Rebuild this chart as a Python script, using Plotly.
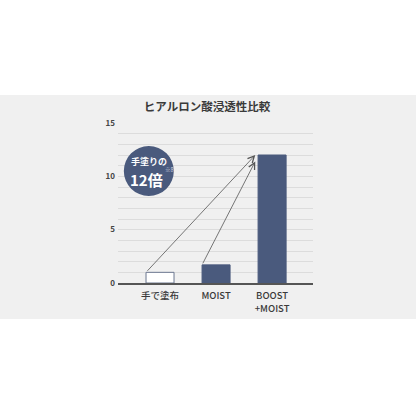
import plotly.graph_objects as go

# data
categories = ['手で塗布', 'MOIST', 'BOOST<br>+MOIST']
values = [1.0, 1.7, 12.0]
y_ticks = [0, 5, 10, 15]

bar_fill = ['#ffffff', '#4a5a7d', '#4a5a7d']
bar_edge = ['#6b7690', '#4a5a7d', '#4a5a7d']
navy = '#4a5a7d'
font_family = 'Noto Sans CJK JP'
bar_w = 0.5

fig = go.Figure()

fig.add_trace(go.Bar(
    x=categories, y=values, width=bar_w,
    marker=dict(color=bar_fill, line=dict(color=bar_edge, width=1)),
    showlegend=False, hoverinfo='skip'
))

# gray band behind the chart
fig.add_shape(type='rect', xref='paper', yref='paper',
              x0=-0.7, x1=1.6, y0=-0.225, y1=1.175,
              fillcolor='#f0f0f0', line_width=0, layer='below')

# arrows from the left bars to the top of the last bar
tip_x = 2 - bar_w / 2 - 0.05
tips_y = [values[2], values[2] - 0.6]
for i, ty in zip([0, 1], tips_y):
    fig.add_annotation(
        x=tip_x, y=ty, ax=i - bar_w / 2, ay=values[i],
        xref='x', yref='y', axref='x', ayref='y',
        text='', showarrow=True, arrowhead=5, arrowsize=1.6,
        arrowwidth=0.8, arrowcolor='#555555'
    )

# badge circle
cx, cy = -0.2, 10.5
fig.add_shape(type='circle', xref='x', yref='y',
              xsizemode='pixel', ysizemode='pixel',
              xanchor=cx, yanchor=cy, x0=-25, x1=25, y0=-25, y1=25,
              fillcolor=navy, line_width=0)
fig.add_annotation(x=cx, y=cy, xref='x', yref='y', yshift=10,
                   text='<b>手塗りの</b>', showarrow=False,
                   font=dict(family=font_family, size=9, color='white'))
fig.add_annotation(x=cx, y=cy, xref='x', yref='y', yshift=-8, xshift=-2,
                   text='12倍', showarrow=False,
                   font=dict(family=font_family, size=15, color='white', weight=600))
fig.add_annotation(x=cx, y=cy, xref='x', yref='y', xshift=21, yshift=1,
                   text='※8', showarrow=False,
                   font=dict(family=font_family, size=5.5, color='#d4d8e0'))

fig.update_layout(
    width=416, height=416,
    margin=dict(l=118, r=103, t=123, b=133),
    paper_bgcolor='white', plot_bgcolor='rgba(0,0,0,0)',
    font=dict(family=font_family, color='#444444'),
    title=dict(text='<b>ヒアルロン酸浸透性比較</b>', x=0.4976, y=1 - 107 / 416,
               xanchor='center', yanchor='middle',
               font=dict(family=font_family, size=11.5, color='#3a3a3a')),
    bargap=0.5,
)
fig.update_xaxes(range=[-0.75, 2.73], showgrid=False, showline=True,
                 linecolor='#555555', linewidth=2, ticks='',
                 tickfont=dict(size=9.5, color='#3a3a3a', weight=500),
                 ticklabelstandoff=3)
fig.update_yaxes(range=[0, 15], tickvals=y_ticks, showgrid=True,
                 gridcolor='#dcdcdc', gridwidth=1, zeroline=False,
                 minor=dict(dtick=1, showgrid=True, gridcolor='#dcdcdc', gridwidth=1),
                 tickfont=dict(size=8, color='#444444', weight=600),
                 ticklabelstandoff=2)

fig.write_html('out.html', config={'displayModeBar': False},
               post_script="document.body.style.margin='0';")
